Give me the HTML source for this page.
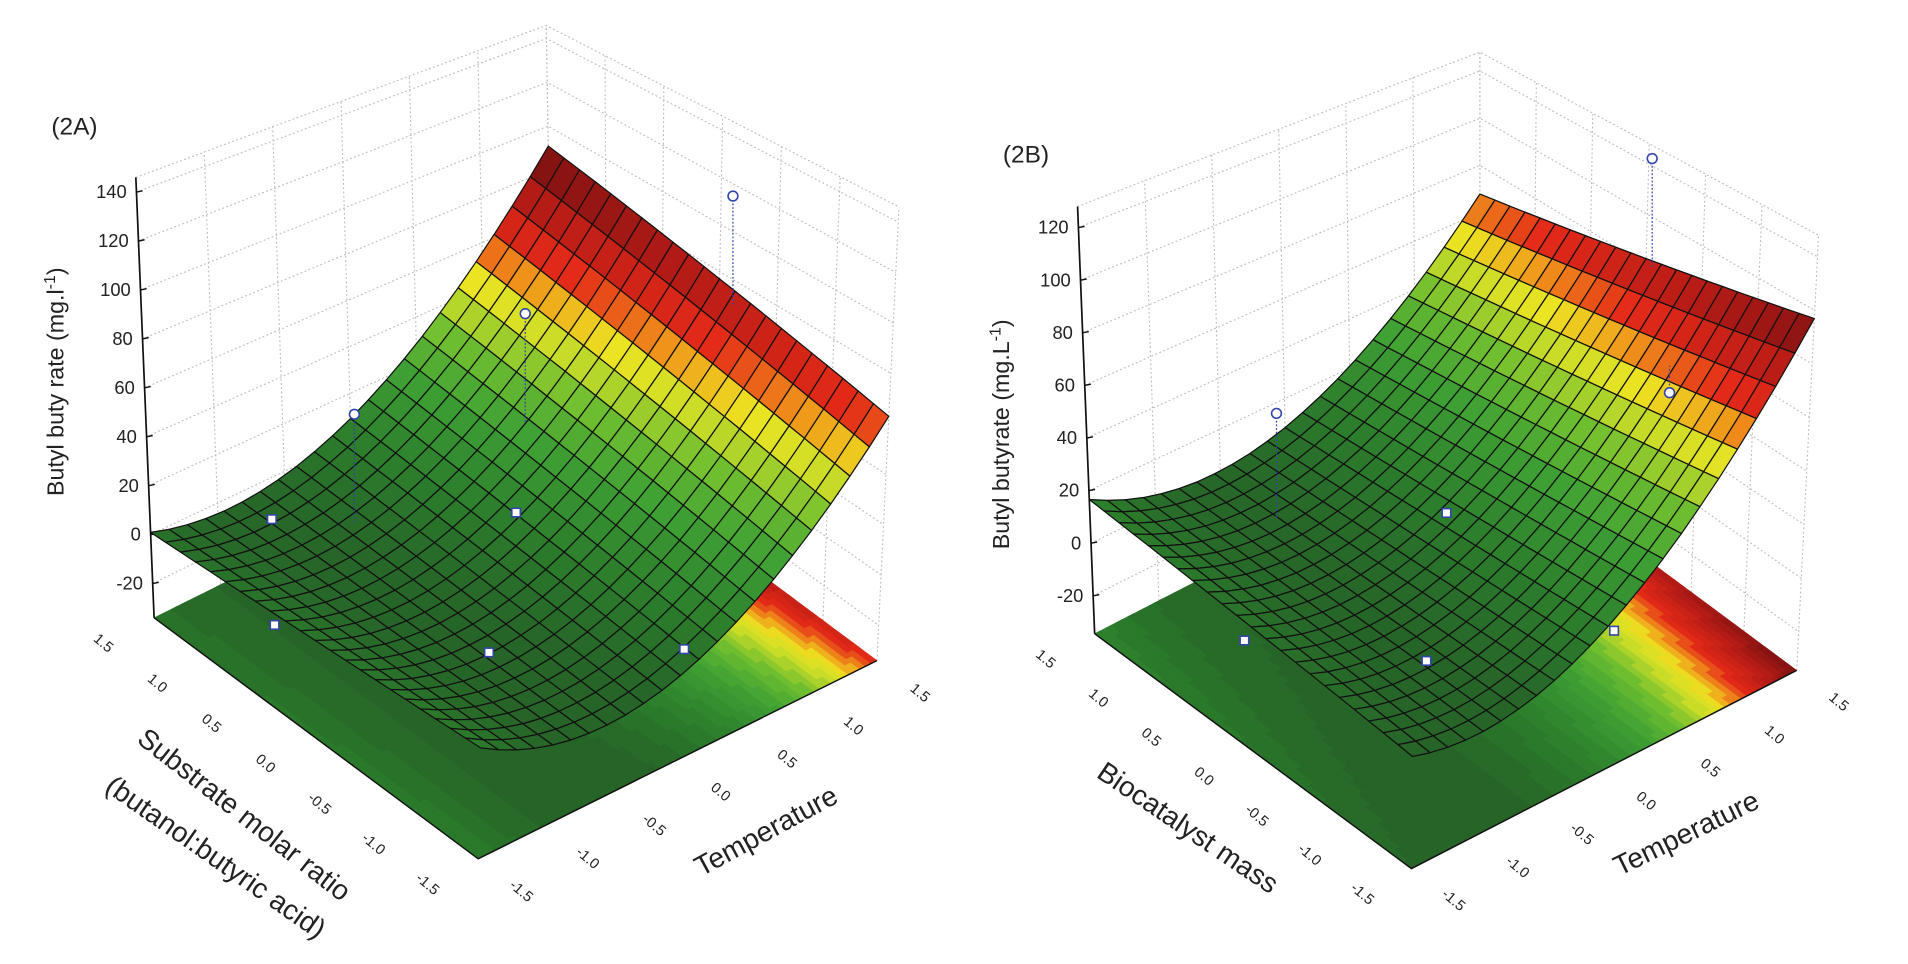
<!DOCTYPE html>
<html><head><meta charset="utf-8"><style>
html,body{margin:0;padding:0;background:#fff;}
svg{display:block;}
text{font-family:"Liberation Sans",sans-serif;fill:#222;}
</style></head><body>
<svg id="root" width="1908" height="964" viewBox="0 0 1560 788" preserveAspectRatio="none" xmlns="http://www.w3.org/2000/svg">
<rect width="1560" height="788" fill="#fff"/>
<g id="chartA"></g>
<g id="chartB"></g>
</svg>
<script>
// ---- data: fitted response-surface coefficients [c0, u, u^2, v, u*v]
const coefA = [3.5, 24.5, 16.3, 3.83, 3.67];
const coefB = [12.5, 24.1, 15.0, -2.67, -4.67];
const floorTicks = [-1.5, -1.0, -0.5, 0.0, 0.5, 1.0, 1.5];
const floorTickLabels = ["-1.5","-1.0","-0.5","0.0","0.5","1.0","1.5"];
const zTicksA = [-20, 0, 20, 40, 60, 80, 100, 120, 140];
const zTicksB = [-20, 0, 20, 40, 60, 80, 100, 120];
// experimental points [u, v, z]
const pointsA = [[0.8,-0.9,150],[-0.7,0.6,56],[0.4,0.4,77],[-1,1,9],[0,0,17],[-1,1,-34],[-0.2,0,-34],[0.7,-0.7,-34]];
const markersA = ["circle","circle","circle","square","square","square","square","square"];
const pointsB = [[1.05,-0.55,144],[-0.55,0.9,44],[1.15,-0.65,55],[0,0,18],[-0.86,0.86,-34],[-0.15,0,-34],[0.9,-0.5,-34]];
const markersB = ["circle","circle","circle","square","square","square","square"];

const NS = "http://www.w3.org/2000/svg";
function mk(tag, attrs, parent){ const e=document.createElementNS(NS,tag); for(const k in attrs) e.setAttribute(k,attrs[k]); parent.appendChild(e); return e; }

const stops=[[0,[38,100,40]],[0.12,[44,125,44]],[0.28,[62,160,52]],[0.4,[110,190,48]],[0.5,[200,220,40]],[0.56,[236,228,34]],[0.62,[240,150,26]],[0.69,[228,42,24]],[0.84,[176,26,22]],[1,[106,15,15]]];
function colorAt(t){ t=Math.max(0,Math.min(1,t)); for(let i=1;i<stops.length;i++){ if(t<=stops[i][0]){ const a=stops[i-1],b=stops[i]; const f=(t-a[0])/(b[0]-a[0]); const c=a[1].map((x,j)=>Math.round(x+(b[1][j]-x)*f)); return `rgb(${c[0]},${c[1]},${c[2]})`; } } return "rgb(106,15,15)"; }

function drawChart(g, cfg, coef, zTicks, pts, markers){
  const surf=(u,v)=>coef[0]+coef[1]*u+coef[2]*u*u+coef[3]*v+coef[4]*u*v;
  function P(u,v,z){
    const a=(u+1.5)/3, b=(v+1.5)/3;
    const bx=cfg.F[0]+a*(cfg.R[0]-cfg.F[0])+b*(cfg.L[0]-cfg.F[0]);
    const by=cfg.F[1]+a*(cfg.R[1]-cfg.F[1])+b*(cfg.L[1]-cfg.F[1]);
    const w=[(1-a)*(1-b), a*(1-b), (1-a)*b, a*b];
    const s=cfg.s[0]*w[0]+cfg.s[1]*w[1]+cfg.s[2]*w[2]+cfg.s[3]*w[3];
    const l=cfg.lean[0]*w[0]+cfg.lean[1]*w[1]+cfg.lean[2]*w[2]+cfg.lean[3]*w[3];
    const h=z-cfg.zf;
    return [bx-h*l, by-h*s];
  }
  const pstr=arr=>arr.map(p=>p[0].toFixed(1)+","+p[1].toFixed(1)).join(" ");
  const zf=cfg.zf, zt=cfg.zt;
  const walls=mk("g",{},g);
  
  
  for(const z of zTicks.concat([zt])){
    mk("polyline",{points:pstr([P(-1.5,1.5,z),P(1.5,1.5,z),P(1.5,-1.5,z)]),fill:"none",stroke:"#bbb","stroke-width":0.9,"stroke-dasharray":"1.5,2"},walls);
  }
  for(const t of floorTicks){
    mk("line",{x1:P(t,1.5,zf)[0],y1:P(t,1.5,zf)[1],x2:P(t,1.5,zt)[0],y2:P(t,1.5,zt)[1],stroke:"#bbb","stroke-width":0.9,"stroke-dasharray":"1.5,2"},walls);
    mk("line",{x1:P(1.5,t,zf)[0],y1:P(1.5,t,zf)[1],x2:P(1.5,t,zt)[0],y2:P(1.5,t,zt)[1],stroke:"#bbb","stroke-width":0.9,"stroke-dasharray":"1.5,2"},walls);
  }
  const fl=mk("g",{},g);
  
  
  const zmin=cfg.zmin, zmax=cfg.zmax, NF=70;
  for(let i=0;i<NF;i++) for(let j=0;j<NF;j++){
    const u0=-1.5+3*i/NF,u1=-1.5+3*(i+1)/NF,v0=-1.5+3*j/NF,v1=-1.5+3*(j+1)/NF;
    const t=(surf((u0+u1)/2,(v0+v1)/2)-zmin)/(zmax-zmin);
    const c=colorAt(Math.round(t*30)/30);
    mk("polygon",{points:pstr([P(u0,v0,zf),P(u1,v0,zf),P(u1,v1,zf),P(u0,v1,zf)]),fill:c,stroke:c,"stroke-width":0.5},fl);
  }
  mk("polyline",{points:pstr([P(-1.5,1.5,zf),P(-1.5,-1.5,zf),P(1.5,-1.5,zf)]),fill:"none",stroke:"#111","stroke-width":1.2},g);
  const ax=mk("g",{},g);
  
  
  mk("line",{x1:P(-1.5,1.5,zf)[0],y1:P(-1.5,1.5,zf)[1],x2:P(-1.5,1.5,zt)[0],y2:P(-1.5,1.5,zt)[1],stroke:"#111","stroke-width":1.4},ax);
  zTicks.forEach(z=>{
    const p=P(-1.5,1.5,z);
    mk("line",{x1:p[0],y1:p[1],x2:p[0]+5,y2:p[1]-1,stroke:"#111","stroke-width":1.2},ax);
    const tx=mk("text",{x:p[0]-8,y:p[1]+5,"text-anchor":"end","font-size":15},ax);
    tx.textContent=String(z);
    
    
  });
  floorTicks.forEach((t,i)=>{
    const p=P(-1.5-0.38,t,zf);
    const tx=mk("text",{x:p[0],y:p[1]+4,"text-anchor":"middle","font-size":12,transform:`rotate(40 ${p[0]} ${p[1]})`},g);
    tx.textContent=floorTickLabels[i];
    
    
    const q=P(t,-1.5-0.4,zf);
    const tx2=mk("text",{x:q[0],y:q[1]+4,"text-anchor":"middle","font-size":12,transform:`rotate(40 ${q[0]} ${q[1]})`},g);
    tx2.textContent=floorTickLabels[i];
    
    
  });
  const sg=mk("g",{},g);
  
  
  const N=22, quads=[];
  for(let i=0;i<N;i++) for(let j=0;j<N;j++){
    const u0=-1.5+3*i/N,u1=-1.5+3*(i+1)/N,v0=-1.5+3*j/N,v1=-1.5+3*(j+1)/N;
    quads.push({d:(i+j), pts:[P(u0,v0,surf(u0,v0)),P(u1,v0,surf(u1,v0)),P(u1,v1,surf(u1,v1)),P(u0,v1,surf(u0,v1))], z:surf((u0+u1)/2,(v0+v1)/2)});
  }
  quads.sort((a,b)=>b.d-a.d);
  quads.forEach(q=>{
    mk("polygon",{points:pstr(q.pts),fill:colorAt((q.z-zmin)/(zmax-zmin)),stroke:"#111","stroke-width":1,"stroke-linejoin":"round"},sg);
  });
  const pg=mk("g",{},g);
  
  
  pts.forEach((pt,i)=>{
    const p=P(pt[0],pt[1],pt[2]);
    if(markers[i]==="circle"){
      const s=P(pt[0],pt[1],surf(pt[0],pt[1]));
      mk("line",{x1:p[0],y1:p[1],x2:p[0],y2:Math.min(s[1],p[1]+90),stroke:"#3344aa","stroke-width":1,"stroke-dasharray":"1.5,1.5"},pg);
      const c=mk("circle",{cx:p[0],cy:p[1],r:4,fill:"#fff",stroke:"#3344aa","stroke-width":1.3},pg);
      
      
    } else {
      const r=mk("rect",{x:p[0]-3.5,y:p[1]-3.5,width:7,height:7,fill:"#fff",stroke:"#3344aa","stroke-width":1.3},pg);
      
      
    }
  });
}

drawChart(document.getElementById('chartA'),
  {F:[391,702],R:[717,540],L:[126,505],s:[2.27,2.06,2.0,1.79],lean:[-0.047,-0.1,0.083,0.03],zf:-34,zt:146,zmin:-6,zmax:91},
  coefA, zTicksA, pointsA, markersA);
drawChart(document.getElementById('chartB'),
  {F:[1154,710],R:[1469,548],L:[895,518],s:[2.41,2.19,2.15,1.93],lean:[-0.024,-0.11,0.086,0.0],zf:-34.4,zt:128,zmin:2,zmax:100},
  coefB, zTicksB, pointsB, markersB);
</script>
<script>
const root=document.getElementById('root');
function addText(x,y,txt,size,rot,name,anchor){
  const t=document.createElementNS("http://www.w3.org/2000/svg","text");
  t.setAttribute('x',x);t.setAttribute('y',y);t.setAttribute('font-size',size);
  t.setAttribute('text-anchor',anchor||'middle');
  if(rot) t.setAttribute('transform',`rotate(${rot} ${x} ${y})`);
  t.textContent=txt;
  
  
  root.appendChild(t);
  return t;
}
addText(42,110,"(2A)",20,0,"panel-label-2a","start");
addText(820,133,"(2B)",20,0,"panel-label-2b","start");
const za=addText(52,312,"Butyl buty rate  (mg.l",19,-90,"z-axis-title-a");
const s1=document.createElementNS("http://www.w3.org/2000/svg","tspan");s1.setAttribute('dy','-7');s1.setAttribute('font-size','13');s1.textContent="-1";za.appendChild(s1);
const e1=document.createElementNS("http://www.w3.org/2000/svg","tspan");e1.setAttribute('dy','7');e1.textContent=")";za.appendChild(e1);
const zb=addText(825,355,"Butyl butyrate  (mg.L",19,-90,"z-axis-title-b");
const s2=document.createElementNS("http://www.w3.org/2000/svg","tspan");s2.setAttribute('dy','-7');s2.setAttribute('font-size','13');s2.textContent="-1";zb.appendChild(s2);
const e2=document.createElementNS("http://www.w3.org/2000/svg","tspan");e2.setAttribute('dy','7');e2.textContent=")";zb.appendChild(e2);
addText(195,672,"Substrate molar ratio",23,38,"y-axis-title-a");
addText(172,707,"(butanol:butyric acid)",23,35,"y-axis-title-a-units");
addText(630,686,"Temperature",23,-28.5,"x-axis-title-a");
addText(967,683,"Biocatalyst mass",23,34,"y-axis-title-b");
addText(1382,688,"Temperature",23,-26,"x-axis-title-b");
</script>
</body></html>
